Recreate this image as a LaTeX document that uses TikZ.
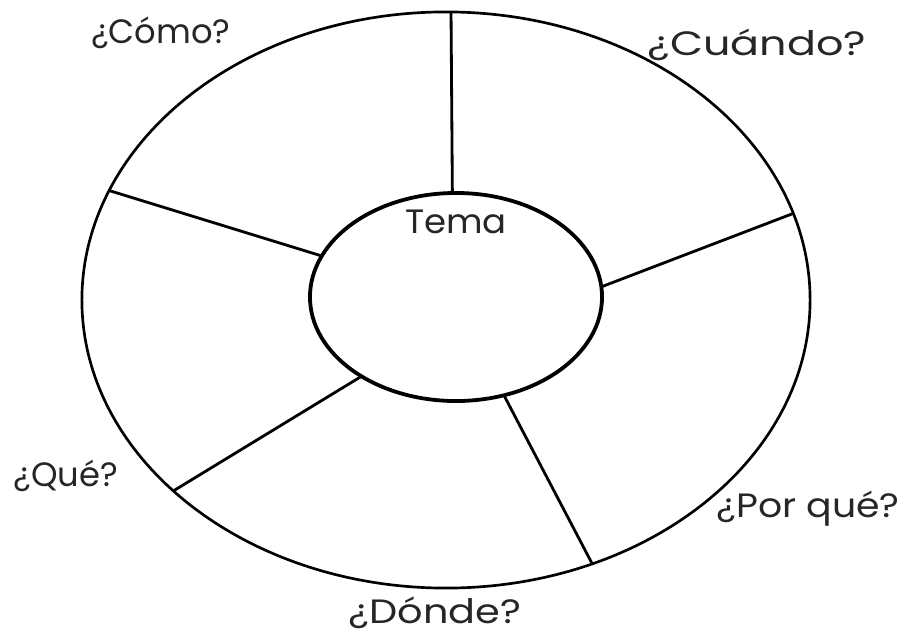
\documentclass[tikz,border=0pt]{standalone}
\usepackage{fontspec}
\setmainfont{Poppins}
\usetikzlibrary{shapes.geometric,positioning}

\begin{document}
\begin{tikzpicture}[
  x=0.025cm, y=-0.025cm,
  ring/.style={draw, ellipse, inner sep=0pt, outer sep=0pt},
  spoke/.style={line width=2pt},
  lbl/.style={font=\fontsize{24}{28}\selectfont, text=black!85}
]
  \useasboundingbox (0,0) rectangle (903,638);
  % wheel
  \node[ring, line width=1.9pt, minimum width=18.2cm, minimum height=14.4cm] (outer) at (446,300) {};
  \node[ring, line width=2.7pt, minimum width=7.3cm, minimum height=5.2cm] (inner) at (456,297) {};
  \node[lbl, below=0.3cm of inner.north] (tema) {\scalebox{1.05}[1]{Tema}};
  % spokes
  \draw[spoke] (inner.92) -- (outer.89);
  \draw[spoke] (inner.4) -- (outer.14);
  \draw[spoke] (inner.296) -- (outer.299);
  \draw[spoke] (inner.220) -- (outer.215);
  \draw[spoke] (inner.163) -- (outer.162);
  % questions
  \node[lbl] (como) at (161,33) {¿Cómo?};
  \node[lbl] (cuando) at (757,45) {\scalebox{1.27}[1]{¿Cuándo?}};
  \node[lbl] (que) at (66,476) {¿Qué?};
  \node[lbl] (porque) at (808,509) {\scalebox{1.12}[1]{¿Por qué?}};
  \node[lbl] (donde) at (435,613) {\scalebox{1.18}[1]{¿Dónde?}};
\end{tikzpicture}
\end{document}
